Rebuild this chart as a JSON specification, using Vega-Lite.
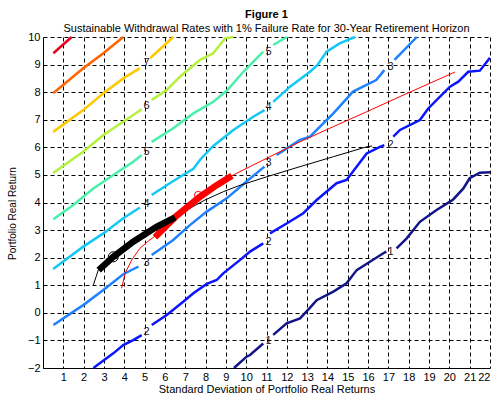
{
  "$schema": "https://vega.github.io/schema/vega-lite/v6.json",
  "description": "Sustainable withdrawal rate contours over mean and standard deviation of portfolio real returns",
  "width": 447,
  "height": 331,
  "autosize": "none",
  "padding": {"left": 43, "top": 37, "right": 8, "bottom": 36},
  "config": {"view": {"stroke": null}, "font": "Liberation Sans"},
  "title": {
    "text": "Figure 1",
    "subtitle": "Sustainable Withdrawal Rates with 1% Failure Rate for 30-Year Retirement Horizon",
    "font": "Liberation Sans", "subtitleFont": "Liberation Sans",
    "fontSize": 11, "subtitleFontSize": 11, "fontWeight": "bold",
    "color": "black", "subtitleColor": "black",
    "anchor": "middle", "offset": -3, "subtitlePadding": 3
  },
  "datasets": {
    "contours": [
      {"lvl": 1, "seg": "1a", "x": 9.4, "y": -2}, {"lvl": 1, "seg": "1a", "x": 10.02, "y": -1.59}, {"lvl": 1, "seg": "1a", "x": 10.19, "y": -1.53}, {"lvl": 1, "seg": "1a", "x": 10.84, "y": -1.11},
      {"lvl": 1, "seg": "1b", "x": 11.33, "y": -0.8}, {"lvl": 1, "seg": "1b", "x": 11.99, "y": -0.38}, {"lvl": 1, "seg": "1b", "x": 12.65, "y": -0.2}, {"lvl": 1, "seg": "1b", "x": 13.1, "y": 0.15}, {"lvl": 1, "seg": "1b", "x": 13.47, "y": 0.46}, {"lvl": 1, "seg": "1b", "x": 14.29, "y": 0.77}, {"lvl": 1, "seg": "1b", "x": 14.94, "y": 1.07}, {"lvl": 1, "seg": "1b", "x": 15.44, "y": 1.55}, {"lvl": 1, "seg": "1b", "x": 16.09, "y": 1.85}, {"lvl": 1, "seg": "1b", "x": 16.75, "y": 2.16}, {"lvl": 1, "seg": "1b", "x": 16.9, "y": 2.22},
      {"lvl": 1, "seg": "1c", "x": 17.4, "y": 2.34}, {"lvl": 1, "seg": "1c", "x": 17.9, "y": 2.7}, {"lvl": 1, "seg": "1c", "x": 18.55, "y": 3.3}, {"lvl": 1, "seg": "1c", "x": 19.37, "y": 3.73}, {"lvl": 1, "seg": "1c", "x": 20.03, "y": 4.03}, {"lvl": 1, "seg": "1c", "x": 20.2, "y": 4.12}, {"lvl": 1, "seg": "1c", "x": 20.69, "y": 4.51}, {"lvl": 1, "seg": "1c", "x": 21.0, "y": 4.88}, {"lvl": 1, "seg": "1c", "x": 21.5, "y": 5.08}, {"lvl": 1, "seg": "1c", "x": 22, "y": 5.1},

      {"lvl": 2, "seg": "2a", "x": 2.48, "y": -2}, {"lvl": 2, "seg": "2a", "x": 3.46, "y": -1.47}, {"lvl": 2, "seg": "2a", "x": 3.95, "y": -1.17}, {"lvl": 2, "seg": "2a", "x": 4.44, "y": -0.99}, {"lvl": 2, "seg": "2a", "x": 4.86, "y": -0.81},
      {"lvl": 2, "seg": "2b", "x": 5.35, "y": -0.44}, {"lvl": 2, "seg": "2b", "x": 6.09, "y": -0.08}, {"lvl": 2, "seg": "2b", "x": 6.9, "y": 0.4}, {"lvl": 2, "seg": "2b", "x": 7.4, "y": 0.71}, {"lvl": 2, "seg": "2b", "x": 8.06, "y": 1.05}, {"lvl": 2, "seg": "2b", "x": 8.55, "y": 1.19}, {"lvl": 2, "seg": "2b", "x": 8.87, "y": 1.43}, {"lvl": 2, "seg": "2b", "x": 9.69, "y": 1.91}, {"lvl": 2, "seg": "2b", "x": 10.19, "y": 2.22}, {"lvl": 2, "seg": "2b", "x": 10.84, "y": 2.52},
      {"lvl": 2, "seg": "2c", "x": 11.17, "y": 2.88}, {"lvl": 2, "seg": "2c", "x": 11.99, "y": 3.24}, {"lvl": 2, "seg": "2c", "x": 12.81, "y": 3.61}, {"lvl": 2, "seg": "2c", "x": 13.47, "y": 4.09}, {"lvl": 2, "seg": "2c", "x": 14.45, "y": 4.7}, {"lvl": 2, "seg": "2c", "x": 14.94, "y": 4.82}, {"lvl": 2, "seg": "2c", "x": 15.93, "y": 5.78}, {"lvl": 2, "seg": "2c", "x": 16.58, "y": 6.02}, {"lvl": 2, "seg": "2c", "x": 16.8, "y": 6.08},
      {"lvl": 2, "seg": "2d", "x": 17.24, "y": 6.39}, {"lvl": 2, "seg": "2d", "x": 17.57, "y": 6.63}, {"lvl": 2, "seg": "2d", "x": 18.55, "y": 6.99}, {"lvl": 2, "seg": "2d", "x": 18.96, "y": 7.41}, {"lvl": 2, "seg": "2d", "x": 20.03, "y": 8.2}, {"lvl": 2, "seg": "2d", "x": 20.44, "y": 8.38}, {"lvl": 2, "seg": "2d", "x": 20.93, "y": 8.74}, {"lvl": 2, "seg": "2d", "x": 21.5, "y": 8.78}, {"lvl": 2, "seg": "2d", "x": 22, "y": 9.25},

      {"lvl": 3, "seg": "3a", "x": 0.51, "y": -0.44}, {"lvl": 3, "seg": "3a", "x": 1.98, "y": 0.28}, {"lvl": 3, "seg": "3a", "x": 2.97, "y": 0.83}, {"lvl": 3, "seg": "3a", "x": 3.95, "y": 1.4}, {"lvl": 3, "seg": "3a", "x": 4.7, "y": 1.68},
      {"lvl": 3, "seg": "3b", "x": 5.35, "y": 2.1}, {"lvl": 3, "seg": "3b", "x": 6.41, "y": 2.64}, {"lvl": 3, "seg": "3b", "x": 7.23, "y": 3.18}, {"lvl": 3, "seg": "3b", "x": 8.06, "y": 3.67}, {"lvl": 3, "seg": "3b", "x": 9.04, "y": 4.15}, {"lvl": 3, "seg": "3b", "x": 10.0, "y": 4.75}, {"lvl": 3, "seg": "3b", "x": 10.9, "y": 5.3},
      {"lvl": 3, "seg": "3c", "x": 11.5, "y": 5.72}, {"lvl": 3, "seg": "3c", "x": 12.65, "y": 6.27}, {"lvl": 3, "seg": "3c", "x": 13.14, "y": 6.39}, {"lvl": 3, "seg": "3c", "x": 14.29, "y": 7.23}, {"lvl": 3, "seg": "3c", "x": 15.26, "y": 8.02}, {"lvl": 3, "seg": "3c", "x": 16.4, "y": 8.44}, {"lvl": 3, "seg": "3c", "x": 16.8, "y": 8.8},
      {"lvl": 3, "seg": "3d", "x": 17.3, "y": 9.17}, {"lvl": 3, "seg": "3d", "x": 18.4, "y": 10},

      {"lvl": 4, "seg": "4a", "x": 0.5, "y": 1.59}, {"lvl": 4, "seg": "4a", "x": 1.98, "y": 2.4}, {"lvl": 4, "seg": "4a", "x": 2.97, "y": 2.88}, {"lvl": 4, "seg": "4a", "x": 3.95, "y": 3.43}, {"lvl": 4, "seg": "4a", "x": 4.77, "y": 3.82},
      {"lvl": 4, "seg": "4b", "x": 5.35, "y": 4.27}, {"lvl": 4, "seg": "4b", "x": 6.41, "y": 4.78}, {"lvl": 4, "seg": "4b", "x": 7.4, "y": 5.22}, {"lvl": 4, "seg": "4b", "x": 7.73, "y": 5.55}, {"lvl": 4, "seg": "4b", "x": 8.38, "y": 6.05}, {"lvl": 4, "seg": "4b", "x": 9.37, "y": 6.63}, {"lvl": 4, "seg": "4b", "x": 10.35, "y": 7.11}, {"lvl": 4, "seg": "4b", "x": 10.9, "y": 7.35},
      {"lvl": 4, "seg": "4c", "x": 11.33, "y": 7.65}, {"lvl": 4, "seg": "4c", "x": 12.16, "y": 8.2}, {"lvl": 4, "seg": "4c", "x": 13.14, "y": 8.74}, {"lvl": 4, "seg": "4c", "x": 13.5, "y": 8.98}, {"lvl": 4, "seg": "4c", "x": 13.96, "y": 9.47}, {"lvl": 4, "seg": "4c", "x": 14.6, "y": 9.77}, {"lvl": 4, "seg": "4c", "x": 15.35, "y": 10},

      {"lvl": 5, "seg": "5a", "x": 0.51, "y": 3.39}, {"lvl": 5, "seg": "5a", "x": 1.49, "y": 3.91}, {"lvl": 5, "seg": "5a", "x": 2.48, "y": 4.51}, {"lvl": 5, "seg": "5a", "x": 3.46, "y": 5.0}, {"lvl": 5, "seg": "5a", "x": 4.44, "y": 5.48}, {"lvl": 5, "seg": "5a", "x": 4.86, "y": 5.72},
      {"lvl": 5, "seg": "5b", "x": 5.35, "y": 6.2}, {"lvl": 5, "seg": "5b", "x": 6.41, "y": 6.69}, {"lvl": 5, "seg": "5b", "x": 7.4, "y": 7.23}, {"lvl": 5, "seg": "5b", "x": 8.38, "y": 7.65}, {"lvl": 5, "seg": "5b", "x": 9.04, "y": 8.05}, {"lvl": 5, "seg": "5b", "x": 9.86, "y": 8.74}, {"lvl": 5, "seg": "5b", "x": 10.84, "y": 9.47},
      {"lvl": 5, "seg": "5c", "x": 11.33, "y": 9.71}, {"lvl": 5, "seg": "5c", "x": 12.0, "y": 10},

      {"lvl": 6, "seg": "6a", "x": 0.5, "y": 5.07}, {"lvl": 6, "seg": "6a", "x": 1.98, "y": 5.84}, {"lvl": 6, "seg": "6a", "x": 2.97, "y": 6.45}, {"lvl": 6, "seg": "6a", "x": 3.95, "y": 6.93}, {"lvl": 6, "seg": "6a", "x": 4.44, "y": 7.17}, {"lvl": 6, "seg": "6a", "x": 4.86, "y": 7.38},
      {"lvl": 6, "seg": "6b", "x": 5.35, "y": 7.72}, {"lvl": 6, "seg": "6b", "x": 6.09, "y": 8.08}, {"lvl": 6, "seg": "6b", "x": 6.74, "y": 8.56}, {"lvl": 6, "seg": "6b", "x": 7.73, "y": 9.17}, {"lvl": 6, "seg": "6b", "x": 8.38, "y": 9.41}, {"lvl": 6, "seg": "6b", "x": 8.96, "y": 9.95}, {"lvl": 6, "seg": "6b", "x": 9.37, "y": 10},

      {"lvl": 7, "seg": "7a", "x": 0.5, "y": 6.56}, {"lvl": 7, "seg": "7a", "x": 1.98, "y": 7.35}, {"lvl": 7, "seg": "7a", "x": 2.97, "y": 7.96}, {"lvl": 7, "seg": "7a", "x": 3.95, "y": 8.5}, {"lvl": 7, "seg": "7a", "x": 4.77, "y": 8.87},
      {"lvl": 7, "seg": "7b", "x": 5.27, "y": 9.23}, {"lvl": 7, "seg": "7b", "x": 6.41, "y": 10},

      {"lvl": 8, "seg": "8a", "x": 0.5, "y": 7.96}, {"lvl": 8, "seg": "8a", "x": 1.98, "y": 8.87}, {"lvl": 8, "seg": "8a", "x": 2.97, "y": 9.41}, {"lvl": 8, "seg": "8a", "x": 3.95, "y": 10},

      {"lvl": 9, "seg": "9a", "x": 0.51, "y": 9.41}, {"lvl": 9, "seg": "9a", "x": 1.41, "y": 10}
    ],
    "labels": [
      {"lab": "1", "x": 11.1, "y": -1.01}, {"lab": "1", "x": 17.1, "y": 2.22},
      {"lab": "2", "x": 5.1, "y": -0.71}, {"lab": "2", "x": 11.1, "y": 2.58}, {"lab": "2", "x": 17.1, "y": 6.08},
      {"lab": "3", "x": 5.1, "y": 1.79}, {"lab": "3", "x": 11.1, "y": 5.42}, {"lab": "3", "x": 17.1, "y": 8.92},
      {"lab": "4", "x": 5.1, "y": 3.94}, {"lab": "4", "x": 11.1, "y": 7.45},
      {"lab": "5", "x": 5.1, "y": 5.84}, {"lab": "5", "x": 11.1, "y": 9.47},
      {"lab": "6", "x": 5.1, "y": 7.5},
      {"lab": "7", "x": 5.1, "y": 9.05}
    ],
    "redThin": [
      {"x": 3.87, "y": 0.89}, {"x": 4.04, "y": 1.43}, {"x": 4.36, "y": 1.91}, {"x": 4.77, "y": 2.34}, {"x": 5.18, "y": 2.6}, {"x": 5.51, "y": 2.78},
      {"x": 6.58, "y": 3.52}, {"x": 7.73, "y": 4.21}, {"x": 8.55, "y": 4.63}, {"x": 9.37, "y": 5.0},
      {"x": 11.0, "y": 5.6}, {"x": 12.65, "y": 6.2}, {"x": 14.29, "y": 6.75}, {"x": 15.93, "y": 7.29}, {"x": 17.57, "y": 7.84}, {"x": 20.28, "y": 8.73}
    ],
    "redThick": [
      {"x": 5.51, "y": 2.74}, {"x": 6.58, "y": 3.52}, {"x": 7.73, "y": 4.21}, {"x": 8.55, "y": 4.63}, {"x": 9.3, "y": 4.97}
    ],
    "blackThin": [
      {"x": 2.48, "y": 1.01}, {"x": 2.64, "y": 1.37}, {"x": 2.72, "y": 1.55}, {"x": 3.46, "y": 2.03}, {"x": 4.44, "y": 2.58}, {"x": 5.59, "y": 3.12}, {"x": 6.5, "y": 3.46},
      {"x": 7.23, "y": 3.79}, {"x": 7.97, "y": 4.09}, {"x": 8.87, "y": 4.39}, {"x": 9.61, "y": 4.6},
      {"x": 11.0, "y": 4.93}, {"x": 12.65, "y": 5.3}, {"x": 14.29, "y": 5.66}, {"x": 15.93, "y": 6.02}, {"x": 16.2, "y": 6.05}
    ],
    "blackThick": [
      {"x": 2.74, "y": 1.55}, {"x": 3.46, "y": 2.03}, {"x": 4.44, "y": 2.58}, {"x": 5.59, "y": 3.12}, {"x": 6.5, "y": 3.46}
    ],
    "blackMark": [{"x": 3.46, "y": 2.03}],
    "redMark": [{"x": 7.64, "y": 4.27}]
  },
  "encoding": {
    "x": {
      "field": "x", "type": "quantitative",
      "scale": {"domain": [0, 22], "nice": false, "zero": false},
      "axis": {
        "values": [1, 2, 3, 4, 5, 6, 7, 8, 9, 10, 11, 12, 13, 14, 15, 16, 17, 18, 19, 20, 21, 22],
        "title": "Standard Deviation of Portfolio Real Returns",
        "grid": true, "gridColor": "black", "gridOpacity": 1, "gridDash": [4, 3], "gridWidth": 1,
        "ticks": false, "domainColor": "black", "domainWidth": 1,
        "labelFontSize": 11, "labelColor": "black", "labelPadding": 3,
        "titleFontSize": 11, "titleFontWeight": "normal", "titleColor": "black", "titlePadding": 1
      }
    },
    "y": {
      "field": "y", "type": "quantitative",
      "scale": {"domain": [-2, 10], "nice": false, "zero": false},
      "axis": {
        "values": [-2, -1, 0, 1, 2, 3, 4, 5, 6, 7, 8, 9, 10],
        "title": "Portfolio Real Return",
        "titleAngle": -90, "titleAlign": "center", "titleBaseline": "middle",
        "titleX": -31, "titleY": 176, "titleFontSize": 10,
        "titleFontWeight": "normal", "titleColor": "black",
        "grid": true, "gridColor": "black", "gridOpacity": 1, "gridDash": [4, 3], "gridWidth": 1,
        "ticks": false, "domainColor": "black", "domainWidth": 1,
        "labelFontSize": 11, "labelColor": "black", "labelPadding": 3
      }
    }
  },
  "layer": [
    {
      "data": {"name": "contours"},
      "mark": {"type": "line", "strokeWidth": 2.5, "strokeCap": "butt"},
      "encoding": {
        "detail": {"field": "seg"},
        "color": {
          "field": "lvl", "type": "ordinal", "legend": null,
          "scale": {
            "domain": [1, 2, 3, 4, 5, 6, 7, 8, 9],
            "range": ["#14148a", "#0a14ff", "#1e82ff", "#14c8f5", "#48f0aa", "#b4f03c", "#ffc800", "#ff6400", "#e6001e"]
          }
        }
      }
    },
    {
      "data": {"name": "redThin"},
      "mark": {"type": "line", "color": "#ff0000", "strokeWidth": 1},
      "encoding": {}
    },
    {
      "data": {"name": "blackThin"},
      "mark": {"type": "line", "color": "black", "strokeWidth": 1},
      "encoding": {}
    },
    {
      "data": {"name": "redThick"},
      "mark": {"type": "line", "color": "#ff0000", "strokeWidth": 6.5, "strokeCap": "butt"},
      "encoding": {}
    },
    {
      "data": {"name": "blackThick"},
      "mark": {"type": "line", "color": "black", "strokeWidth": 6.5, "strokeCap": "butt"},
      "encoding": {}
    },
    {
      "data": {"name": "blackMark"},
      "mark": {"type": "point", "shape": "circle", "filled": false, "color": "black", "size": 100, "strokeWidth": 1, "opacity": 1}
    },
    {
      "data": {"name": "redMark"},
      "mark": {"type": "point", "shape": "circle", "filled": false, "color": "#ff0000", "size": 55, "strokeWidth": 1, "opacity": 1}
    },
    {
      "data": {"name": "labels"},
      "mark": {"type": "text", "fontSize": 11, "color": "#1a1a1a", "align": "center", "baseline": "middle"},
      "encoding": {"text": {"field": "lab"}}
    }
  ]
}
